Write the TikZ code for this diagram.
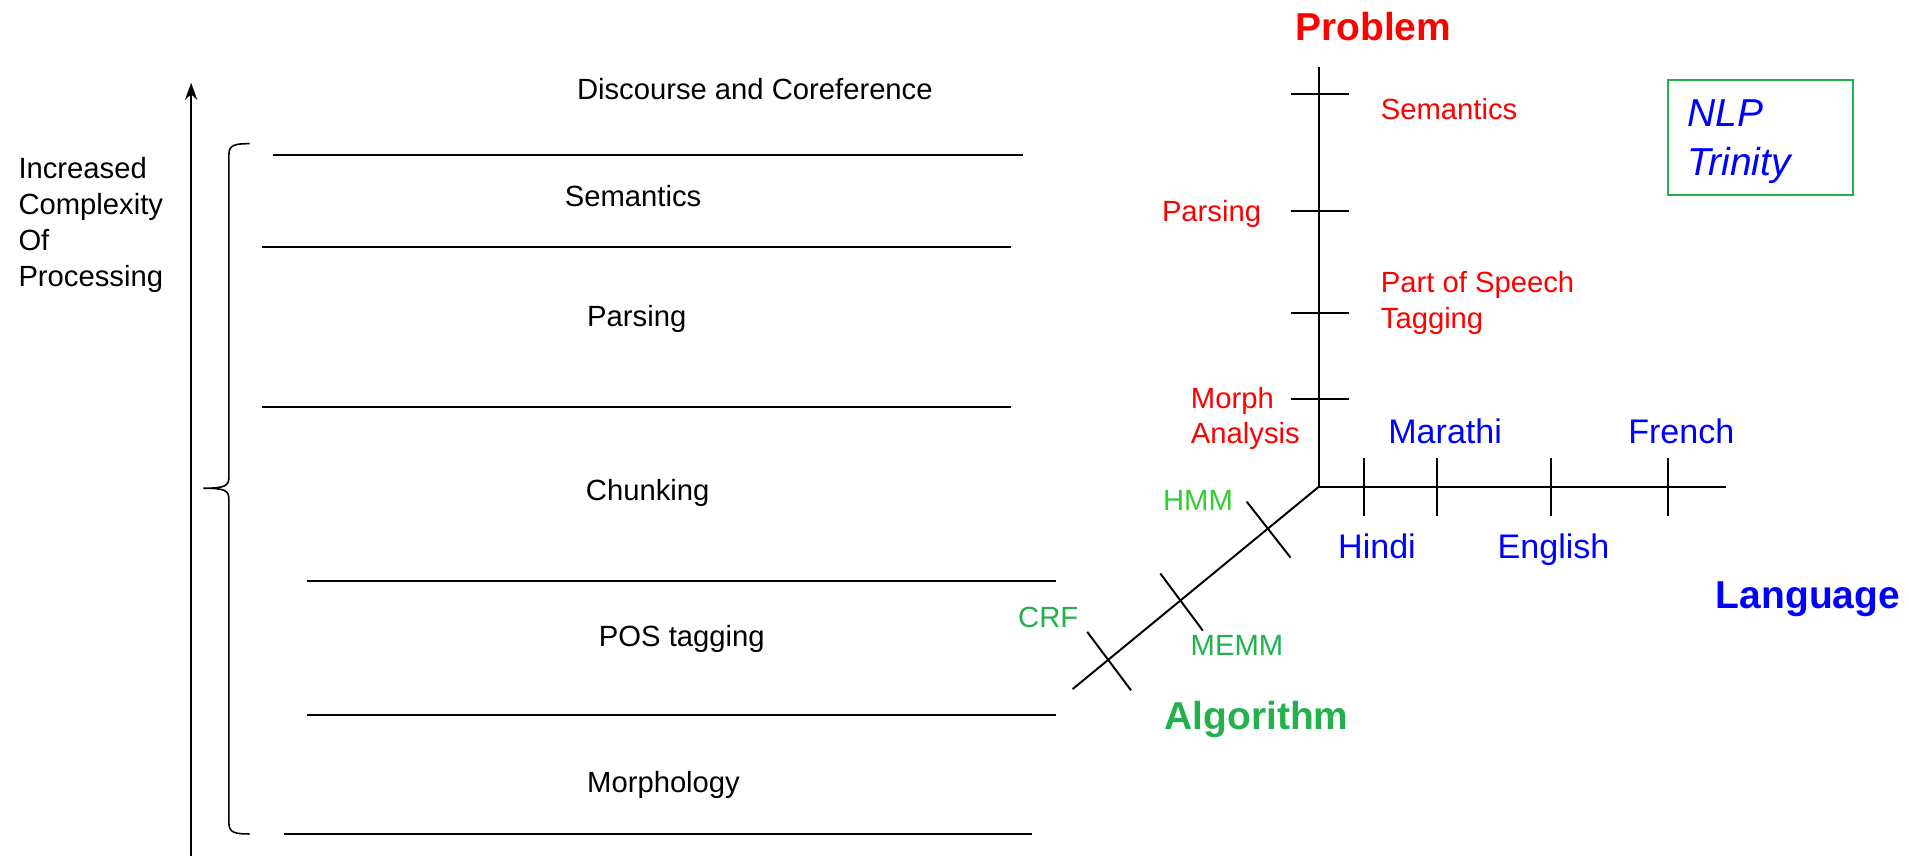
\documentclass[tikz,border=0pt]{standalone}
\usepackage{fontspec}
\setmainfont{Liberation Sans}
\usetikzlibrary{arrows.meta}
\definecolor{pred}{RGB}{255,0,0}
\definecolor{pblue}{RGB}{0,0,255}
\definecolor{pgreen}{RGB}{34,177,76}
\definecolor{lgreen}{RGB}{51,204,51}
\tikzset{
  lbl/.style={inner sep=0pt, font=\fontsize{24}{29.5}\selectfont},
  redlbl/.style={lbl, text=pred},
  grnlbl/.style={lbl, text=pgreen},
  bluelbl/.style={inner sep=0pt, text=pblue, font=\fontsize{28}{34}\selectfont},
  title/.style={inner sep=0pt, font=\fontsize{32}{38}\selectfont\bfseries},
  layer/.style={line width=1.5pt},
  axis/.style={line width=1.6pt},
  tick/.style={line width=1.6pt}
}
\begin{document}
\begin{tikzpicture}[x=1pt,y=-1pt]
\useasboundingbox (0,0) rectangle (1568,703);
% ---------------- left: processing layers ----------------
\coordinate (arrB) at (157,703);
\coordinate (arrT) at (157,68);
\draw[line width=2pt,-{Stealth[length=14pt,width=10pt]}] (arrB) -- (arrT);
\node[lbl, anchor=base west, align=left] (complex) at (15,235)
  {Increased\\Complexity\\Of\\Processing};
% brace
\draw[line width=1.3pt] (205,118) .. controls (193,118) and (188,119) .. (188,127)
  -- (188,392) .. controls (188,399) and (185,401) .. (167,401)
  .. controls (185,401) and (188,403) .. (188,410)
  -- (188,676) .. controls (188,684) and (193,685) .. (205,685);
% layer lines
\draw[layer] (224,127) -- (840,127);
\draw[layer] (215,203) -- (830,203);
\draw[layer] (215,334) -- (830,334);
\draw[layer] (252,477) -- (867,477);
\draw[layer] (252,587) -- (867,587);
\draw[layer] (233,685) -- (848,685);
% layer labels
\node[lbl, anchor=base] (disc) at (620,82) {Discourse and Coreference};
\node[lbl, anchor=base] (sem) at (520,170) {Semantics};
\node[lbl, anchor=base] (pars) at (523,268) {Parsing};
\node[lbl, anchor=base] (chunk) at (532,411) {Chunking};
\node[lbl, anchor=base] (pos) at (560,531) {POS tagging};
\node[lbl, anchor=base] (morph) at (545,651) {Morphology};
% ---------------- right: NLP trinity ----------------
\coordinate (O) at (1083,400);
\coordinate (Ptop) at (1083,55);
\coordinate (Lend) at (1418,400);
\coordinate (Aend) at (881,566);
\draw[axis] (Ptop) -- (O) -- (Lend);
\draw[axis] (O) -- (Aend);
% problem ticks
\foreach \yy in {77,173,257,328} \draw[tick] (1060,\yy) -- (1108,\yy);
% language ticks
\foreach \xx in {1120,1180,1274,1370} \draw[tick] (\xx,376) -- (\xx,424);
% algorithm ticks
\draw[tick] (1024,412) -- (1060,458);
\draw[tick] (953,471) -- (988,518);
\draw[tick] (893,519) -- (929,567);
% titles
\node[title, text=pred, anchor=base] (problem) at (1128,33) {Problem};
\node[title, text=pblue, anchor=base] (language) at (1485,500) {Language};
\node[title, text=pgreen, anchor=base] (algorithm) at (1032,599) {Algorithm};
% problem labels
\node[redlbl, anchor=base west] (psem) at (1134,98) {Semantics};
\node[redlbl, anchor=base east] (ppars) at (1036,182) {Parsing};
\node[redlbl, anchor=base west, align=left] (ppos) at (1134,270) {Part of Speech\\Tagging};
\node[redlbl, anchor=base west, align=left, font=\fontsize{24}{28.5}\selectfont] (pmorph) at (978,364) {Morph\\Analysis};
% language labels
\node[bluelbl, anchor=base] (mar) at (1187,364) {Marathi};
\node[bluelbl, anchor=base] (fre) at (1381,364) {French};
\node[bluelbl, anchor=base] (hin) at (1131,459) {Hindi};
\node[bluelbl, anchor=base] (eng) at (1276,459) {English};
% algorithm labels
\node[lbl, text=lgreen, anchor=base] (hmm) at (984,419) {HMM};
\node[grnlbl, anchor=base] (crf) at (861,515) {CRF};
\node[grnlbl, anchor=base] (memm) at (1016,538) {MEMM};
% NLP Trinity box
\draw[pgreen, line width=1.5pt] (1370,66) rectangle (1522,160);
\node[inner sep=0pt, text=pblue, anchor=base west, align=left,
  font=\fontsize{32}{40}\selectfont\itshape] (trin) at (1386,144) {NLP\\Trinity};
\end{tikzpicture}
\end{document}
